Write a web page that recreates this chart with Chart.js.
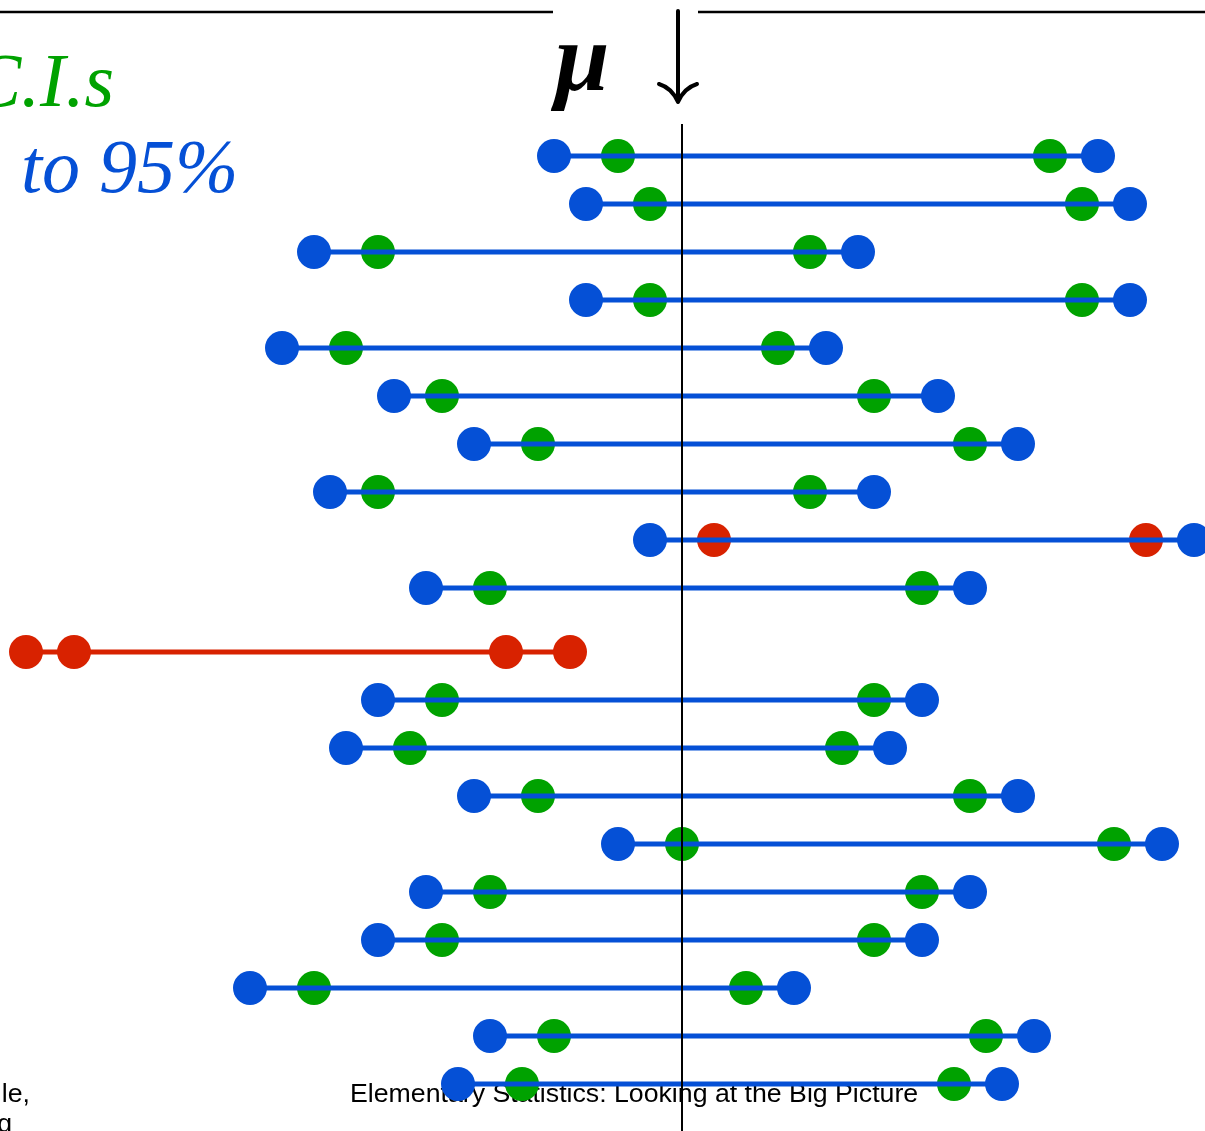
<!DOCTYPE html>
<html>
<head>
<meta charset="utf-8">
<script src="https://cdn.jsdelivr.net/npm/chart.js@4/dist/chart.umd.min.js"></script>
<style>
  html, body { margin: 0; padding: 0; background: #fff; }
  #wrap { width: 1205px; height: 1131px; overflow: hidden; }
</style>
</head>
<body>
<div id="wrap"><canvas id="ci-chart" width="1205" height="1131"></canvas></div>
<script>
// ─── Data: 20 samples, 90% (inner) and 95% (outer) C.I.s around mu ─────────
const MU = 0;
const sampleRow = [0, 1, 2, 3, 4, 5, 6, 7, 8, 9,
  10.333, 11.333, 12.333, 13.333, 14.333, 15.333, 16.333, 17.333, 18.333, 19.333];
const ci95Lo = [-8, -6, -23, -6, -25, -18, -13, -22, -2, -16, -41, -19, -21, -13, -4, -16, -19, -27, -12, -14];
const ci90Lo = [-4, -2, -19, -2, -21, -15, -9, -19, 2, -12, -38, -15, -17, -9, 0, -12, -15, -23, -8, -10];
const ci90Hi = [23, 25, 8, 25, 6, 12, 18, 8, 29, 15, -11, 12, 10, 18, 27, 15, 12, 4, 19, 17];
const ci95Hi = [26, 28, 11, 28, 9, 16, 21, 12, 32, 18, -7, 15, 13, 21, 30, 18, 15, 7, 22, 20];

const BLUE  = '#0550d6';
const GREEN = '#00a200';
const RED   = '#d82200';

const misses = (lo, hi) => lo > MU || hi < MU;

// inner dots: green if the 90% interval covers mu, red otherwise
const innerPts = [], innerCols = [];
sampleRow.forEach((y, i) => {
  const c = misses(ci90Lo[i], ci90Hi[i]) ? RED : GREEN;
  innerPts.push({ x: ci90Lo[i], y }, { x: ci90Hi[i], y });
  innerCols.push(c, c);
});

// outer dots: blue if the 95% interval covers mu, red otherwise
const outerPts = [], outerCols = [];
sampleRow.forEach((y, i) => {
  const c = misses(ci95Lo[i], ci95Hi[i]) ? RED : BLUE;
  outerPts.push({ x: ci95Lo[i], y }, { x: ci95Hi[i], y });
  outerCols.push(c, c);
});

// one segment per sample (lowest order number = drawn on top)
const lineSets = sampleRow.map((y, i) => ({
  data: [{ x: ci95Lo[i], y }, { x: ci95Hi[i], y }],
  showLine: true,
  borderColor: misses(ci95Lo[i], ci95Hi[i]) ? RED : BLUE,
  borderWidth: 5,
  pointRadius: 0,
  clip: false,
  order: 2,
}));

// ─── Slide decorations: footer under the marks, rules + mu arrow on top ────
const slideDecor = {
  id: 'slideDecor',
  beforeDatasetsDraw(chart) {
    const ctx = chart.ctx;
    ctx.save();
    ctx.fillStyle = '#000';
    ctx.textBaseline = 'alphabetic';
    ctx.font = '26.7px "Liberation Sans", Arial, sans-serif';
    ctx.textAlign = 'left';
    ctx.fillText('Elementary Statistics: Looking at the Big Picture', 350, 1102);
    ctx.textAlign = 'right';
    ctx.fillText('le,', 30, 1102);
    ctx.fillText('g', 12, 1132);
    ctx.restore();
  },
  afterDatasetsDraw(chart) {
    const ctx = chart.ctx;
    const xs = chart.scales.x;
    const muX = Math.round(xs.getPixelForValue(MU));
    ctx.save();

    // vertical line at mu
    ctx.strokeStyle = '#000';
    ctx.lineWidth = 2;
    ctx.beginPath();
    ctx.moveTo(muX, 124);
    ctx.lineTo(muX, chart.height);
    ctx.stroke();

    // top rule, broken around the label
    ctx.lineWidth = 2.5;
    ctx.beginPath();
    ctx.moveTo(0, 12); ctx.lineTo(553, 12);
    ctx.moveTo(698, 12); ctx.lineTo(chart.width, 12);
    ctx.stroke();

    // arrow pointing down at mu
    ctx.lineWidth = 4;
    ctx.lineCap = 'round';
    ctx.beginPath();
    ctx.moveTo(678, 11); ctx.lineTo(678, 101);
    ctx.moveTo(659, 84); ctx.quadraticCurveTo(672, 88, 678, 102);
    ctx.moveTo(697, 84); ctx.quadraticCurveTo(684, 88, 678, 102);
    ctx.stroke();

    ctx.fillStyle = '#000';
    ctx.textBaseline = 'alphabetic';
    ctx.textAlign = 'left';
    ctx.font = 'italic bold 98px "Liberation Serif", serif';
    ctx.fillText('\u03bc', 555, 90);

    // title fragments (cut at left edge of the crop)
    ctx.textAlign = 'right';
    ctx.fillStyle = GREEN;
    ctx.font = 'italic 76px "Liberation Serif", serif';
    ctx.fillText('C.I.s', 114, 106);
    ctx.textAlign = 'left';
    ctx.fillStyle = BLUE;
    ctx.fillText('to 95%', 21, 192);

    ctx.restore();
  },
};

new Chart(document.getElementById('ci-chart'), {
  type: 'scatter',
  data: {
    datasets: [
      { data: outerPts, pointRadius: 17, pointBorderWidth: 0, pointBackgroundColor: outerCols, clip: false, order: 1 },
      ...lineSets,
      { data: innerPts, pointRadius: 17, pointBorderWidth: 0, pointBackgroundColor: innerCols, clip: false, order: 3 },
    ],
  },
  options: {
    responsive: false,
    animation: false,
    devicePixelRatio: 1,
    layout: { padding: 0, autoPadding: false },
    plugins: { legend: { display: false }, tooltip: { enabled: false } },
    scales: {
      x: { type: 'linear', display: false, min: -42.625, max: 32.6875 },
      y: { type: 'linear', display: false, reverse: true, min: -3.25, max: 20.3125 },
    },
  },
  plugins: [slideDecor],
});
</script>
</body>
</html>
